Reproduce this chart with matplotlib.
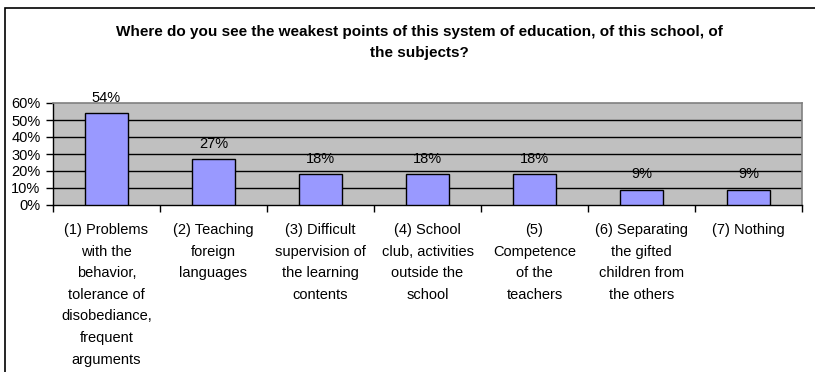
import matplotlib
matplotlib.use("Agg")
import matplotlib.pyplot as plt
from matplotlib.patches import Rectangle
import numpy as np

plt.rcParams['font.family'] = ['Liberation Sans', 'DejaVu Sans']

title = "Where do you see the weakest points of this system of education, of this school, of\nthe subjects?"
categories = [
    "(1) Problems\nwith the\nbehavior,\ntolerance of\ndisobediance,\nfrequent\narguments",
    "(2) Teaching\nforeign\nlanguages",
    "(3) Difficult\nsupervision of\nthe learning\ncontents",
    "(4) School\nclub, activities\noutside the\nschool",
    "(5)\nCompetence\nof the\nteachers",
    "(6) Separating\nthe gifted\nchildren from\nthe others",
    "(7) Nothing",
]
values = [54, 27, 18, 18, 18, 9, 9]
y_ticks = [0, 10, 20, 30, 40, 50, 60]

W, H = 815, 372
fig = plt.figure(figsize=(W / 100, H / 100), dpi=100)

# outer chart frame (open to the right and bottom)
fig.add_artist(Rectangle((5 / W, -0.5), 2.0, 0.5 + (1 - 8 / H), transform=fig.transFigure,
                         fill=False, edgecolor='black', linewidth=1.2))

ax = fig.add_axes([53 / W, 1 - 205 / H, (802 - 53) / W, (205 - 103) / H])
ax.set_facecolor('#C0C0C0')

x = np.arange(len(values))
ax.bar(x, values, width=0.41, color='#9999FF', edgecolor='black', linewidth=1.0, zorder=3)

ax.set_xlim(-0.5, len(values) - 0.5)
ax.set_ylim(0, 60)
ax.set_yticks(y_ticks)
ax.set_yticklabels([f"{v}%" for v in y_ticks], fontsize=10.5)
for v in y_ticks[1:-1]:
    ax.axhline(v, color='black', linewidth=1.0, zorder=1)

# boundary ticks between categories, labels at centres
ax.set_xticks(np.arange(-0.5, len(values) + 0.5, 1.0))
ax.set_xticklabels([])
ax.set_xticks(x, minor=True)
ax.set_xticklabels(categories, minor=True, fontsize=10.5, linespacing=1.69)
ax.tick_params(axis='x', which='minor', length=0, pad=13)
ax.tick_params(axis='x', which='major', length=5, width=1, direction='out')
ax.tick_params(axis='y', length=5, width=1, direction='out', pad=4)

for s in ['top', 'right']:
    ax.spines[s].set_color('#808080')
    ax.spines[s].set_linewidth(1.2)
for s in ['left', 'bottom']:
    ax.spines[s].set_color('black')
    ax.spines[s].set_linewidth(1.0)

for xi, v in zip(x, values):
    ax.annotate(f"{v}%", (xi, v), xytext=(0, 6), textcoords='offset points',
                ha='center', va='bottom', fontsize=10.5, clip_on=False)

fig.text(419 / W, 1 - 42.5 / H, title, ha='center', va='center', fontsize=11,
         fontweight='bold', linespacing=1.62)

fig.savefig("out.png", dpi=100)
